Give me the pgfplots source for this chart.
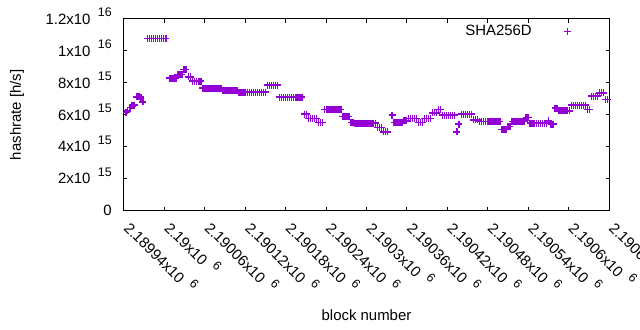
\documentclass[border=0pt]{standalone}
\usepackage{fontspec}
\setmainfont{Liberation Sans}
\usepackage{pgfplots}
\pgfplotsset{compat=1.18}
\definecolor{dv}{RGB}{148,0,211}
\newcommand{\tl}[2]{#1\hspace{7.5bp}\raisebox{7.5bp}{\fontsize{12.5}{13}\selectfont #2}}
% x values: block number minus 2189940
\pgfplotstableread{
x y
3 6.15
5 6.25
9 6.45
12 6.55
15 6.6
19 7.12
22 7.12
25 7.1
28 6.8
35 10.77
38 10.77
41 10.77
44 10.77
47 10.77
50 10.77
53 10.77
56 10.77
59 10.77
62 10.77
68 8.3
71 8.3
74 8.3
77 8.3
80 8.51
83 8.51
86 8.51
89 8.83
92 8.83
96 8.37
99 8.37
102 8.11
105 8.11
108 8.11
111 8.11
114 8.11
117 7.67
120 7.67
123 7.67
126 7.67
129 7.67
132 7.67
135 7.67
138 7.67
141 7.67
144 7.67
147 7.54
150 7.54
153 7.54
156 7.54
159 7.54
162 7.54
165 7.54
168 7.54
171 7.42
174 7.42
177 7.42
180 7.42
183 7.42
186 7.42
189 7.42
192 7.42
195 7.42
198 7.42
201 7.42
204 7.42
207 7.42
210 7.42
213 7.86
216 7.86
219 7.86
222 7.86
225 7.86
228 7.86
231 7.1
234 7.1
237 7.1
240 7.1
243 7.1
246 7.1
249 7.1
252 7.1
255 7.1
258 7.1
261 7.1
264 7.1
268 6.04
271 6.04
274 5.77
277 5.77
280 5.77
283 5.77
286 5.77
289 5.52
292 5.52
295 5.52
298 6.34
301 6.34
304 6.34
307 6.34
310 6.34
313 6.34
316 6.34
319 6.34
322 6.34
325 5.9
328 5.9
331 5.9
334 5.9
337 5.52
340 5.52
343 5.47
346 5.47
349 5.47
352 5.47
355 5.47
358 5.47
361 5.47
364 5.47
367 5.47
370 5.47
373 5.47
376 5.2
379 5.2
382 5.2
385 4.92
388 4.92
391 4.92
398 5.98
401 5.52
404 5.52
407 5.52
410 5.52
413 5.52
416 5.62
419 5.62
422 5.77
425 5.77
428 5.77
431 5.77
434 5.77
437 5.52
440 5.52
443 5.52
446 5.77
449 5.77
452 5.77
455 5.77
458 6.11
461 6.11
464 6.11
467 6.32
470 6.32
473 5.98
476 5.98
479 5.98
482 5.98
485 5.98
488 5.98
491 5.98
494 4.92
497 5.41
501 6.04
504 6.04
507 6.04
510 6.04
513 6.04
516 6.04
519 5.68
522 5.68
525 5.68
528 5.58
531 5.58
534 5.58
537 5.58
540 5.58
543 5.58
546 5.58
549 5.58
552 5.58
555 5.58
558 5.58
561 5.09
564 5.09
567 5.09
570 5.27
573 5.27
576 5.58
579 5.58
582 5.58
585 5.58
588 5.58
591 5.58
594 5.58
597 5.84
600 5.84
603 5.47
606 5.47
609 5.47
612 5.47
615 5.47
618 5.47
621 5.47
624 5.47
627 5.47
630 5.62
634 5.41
637 5.41
640 6.42
643 6.42
646 6.25
649 6.25
652 6.25
655 6.25
658 6.25
661 6.25
664 6.61
667 6.61
670 6.61
673 6.61
676 6.61
679 6.61
682 6.61
685 6.61
688 6.32
691 6.32
694 7.16
697 7.16
700 7.16
703 7.16
706 7.37
709 7.37
712 7.37
715 6.95
718 6.95
}\datatable
\begin{document}
\begin{tikzpicture}
\begin{axis}[
  name=ax, at={(0,0)}, anchor=south west,
  width=485bp, height=191.5bp, scale only axis,
  xmin=0, xmax=720, ymin=0, ymax=12,
  xtick={0,60,...,720},
  xticklabels={\tl{2.18994x10}{6},\tl{2.19x10}{6},\tl{2.19006x10}{6},\tl{2.19012x10}{6},\tl{2.19018x10}{6},\tl{2.19024x10}{6},\tl{2.1903x10}{6},\tl{2.19036x10}{6},\tl{2.19042x10}{6},\tl{2.19048x10}{6},\tl{2.19054x10}{6},\tl{2.1906x10}{6},\tl{2.19066x10}{6}},
  ytick={0,2,...,12},
  yticklabels={0,\tl{2x10}{15},\tl{4x10}{15},\tl{6x10}{15},\tl{8x10}{15},\tl{1x10}{16},\tl{1.2x10}{16}},
  tick label style={font=\fontsize{15}{18}\selectfont},
  xticklabel style={anchor=base west, inner sep=0pt, xshift=-1bp, yshift=-18.5bp, rotate=-45},
  yticklabel style={anchor=base east, inner sep=0pt, xshift=-12bp, yshift=-5.3bp},
  axis line style={line width=1bp},
  every tick/.style={black, line width=1bp},
  major tick length=3.5bp,
  label style={font=\fontsize{15}{18}\selectfont},
  xlabel={block number},
  ylabel={hashrate [h/s]},
  xlabel style={at={(axis description cs:0.5,-0.548)}, anchor=center},
  ylabel style={at={(axis description cs:-0.2206,0.5)}, anchor=center},
  legend style={draw=none, fill=none, font=\fontsize{15}{18}\selectfont,
    at={(axis description cs:1,1)}, anchor=north east, xshift=-37.5bp, yshift=-6bp,
    inner sep=0pt, column sep=32.5bp, nodes={inner sep=0pt}},
  legend plot pos=right,
  legend cell align=right,
  legend image code/.code={\draw[#1, mark options={draw=dv, solid, line width=1bp}] plot coordinates {(0bp,0bp)};},
]
\addplot[only marks, mark=+, mark size=3.5bp, color=dv, draw=dv,
  mark options={draw=dv, solid, line width=1.5bp}] table[x=x,y=y] {\datatable};
\addlegendentry{SHA256D}
\end{axis}
\pgfresetboundingbox
\path ([xshift=-124bp,yshift=-119.5bp]ax.south west) rectangle ([xshift=31bp,yshift=19bp]ax.north east);
\end{tikzpicture}
\end{document}
